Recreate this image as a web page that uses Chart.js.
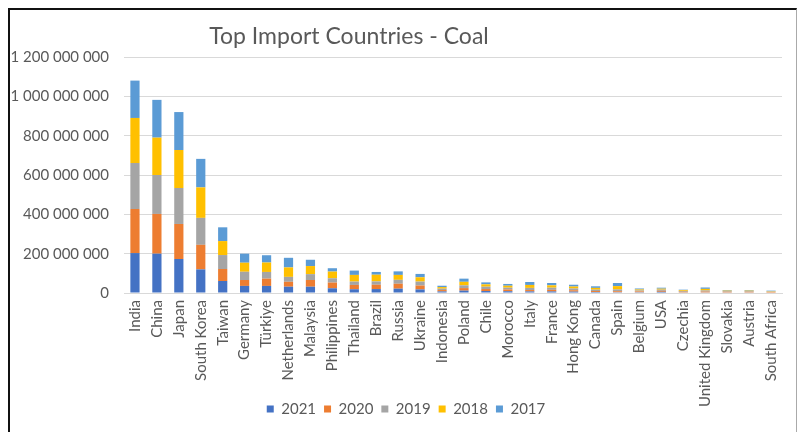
<!DOCTYPE html>
<html>
<head>
<meta charset="utf-8">
<script src="https://cdn.jsdelivr.net/npm/chart.js@4.4.0/dist/chart.umd.min.js"></script>
<style>
  html, body { margin: 0; padding: 0; background: #fff; }
  #wrap { position: relative; width: 798px; height: 432px; overflow: hidden; }
  #frame { position: absolute; left: 8px; top: 8px; width: 789px; height: 440px;
           border-left: 2px solid #111; border-top: 2px solid #111; border-right: 1px solid #aaa;
           pointer-events: none; box-sizing: border-box; }
</style>
</head>
<body>
<div id="wrap">
  <canvas id="c" width="798" height="432"></canvas>
  <div id="frame"></div>
</div>
<script>
const titleText = 'Top Import Countries - Coal';
const categories = ['India','China','Japan','South Korea','Taiwan','Germany','Türkiye','Netherlands','Malaysia','Philippines','Thailand','Brazil','Russia','Ukraine','Indonesia','Poland','Chile','Morocco','Italy','France','Hong Kong','Canada','Spain','Belgium','USA','Czechia','United Kingdom','Slovakia','Austria','South Africa'];
const seriesNames = ['2021','2020','2019','2018','2017'];
// values in millions of tonnes
const v2021 = [203,200,173,120,61,36,36,32,32,24,19,20,22,18,8,12,10,9,8,8,7,5,4,4,6,3,3,3,3,2.4];
const v2020 = [224,202,178,125,61,30,37,25,34,29,22,22,25,20,7,13,10,9,7,8,7,5,5,4,5,3,4,3,3,2.4];
const v2019 = [234,198,183,137,71,42,34,25,30,22,17,17,20,20,7,14,12,9,11,11,9,7,9,5,6,4,6,3,3,2.4];
const v2018 = [229,190,193,155,71,46,48,48,41,34,34,34,25,22,8,18,12,10,15,12,10,9,17,5,5,4,8,3,3,2.4];
const v2017 = [190,192,193,145,70,46,37,49,32,17,22,14,18,17,7,16,10,9,15,12,9,8,16,5,5,3,7,3,3,2.4];
const yTicks = [0,200000000,400000000,600000000,800000000,1000000000,1200000000];
const colors = ['#4472C4','#ED7D31','#A5A5A5','#FFC000','#5B9BD5'];

const seriesValues = [v2021, v2020, v2019, v2018, v2017];
const FONT = 'Lato, "Open Sans", sans-serif';
const fmt = n => String(n).replace(/\B(?=(\d{3})+(?!\d))/g, ' ');

const titlePlugin = {
  id: 'customTitle',
  afterDraw(chart) {
    const ctx = chart.ctx;
    ctx.save();
    ctx.font = '23px ' + FONT;
    ctx.fillStyle = '#595959';
    ctx.textAlign = 'center';
    ctx.textBaseline = 'alphabetic';
    ctx.fillText(titleText, 349, 43.5);
    ctx.restore();
  }
};

// place the legend over the bottom of the axis area, as in the original
const legendPlace = {
  id: 'legendPlace',
  afterLayout(chart) {
    const l = chart.legend;
    if (!l) return;
    const w = l.right - l.left;
    const h = 33;
    l.left = 406 - w / 2; l.right = 406 + w / 2;
    l.top = 393.5; l.bottom = l.top + h; l.height = h;
  }
};

new Chart(document.getElementById('c'), {
  type: 'bar',
  data: {
    labels: categories,
    datasets: seriesNames.map((name, i) => ({
      label: name,
      data: seriesValues[i].map(v => v * 1000000),
      backgroundColor: colors[i],
      borderWidth: 0,
      barPercentage: 0.42,
      categoryPercentage: 1.0
    }))
  },
  options: {
    responsive: false,
    animation: false,
    devicePixelRatio: 1,
    layout: { padding: { top: 57, right: 16, bottom: 0, left: 0 } },
    plugins: {
      legend: {
        position: 'bottom',
        maxHeight: 1,
        labels: { boxWidth: 7, boxHeight: 7, padding: 8, color: '#595959', font: { family: FONT, size: 15 } }
      },
      tooltip: { enabled: false }
    },
    scales: {
      x: {
        stacked: true,
        grid: { display: false, drawTicks: false },
        border: { display: true, color: '#d9d9d9' },
        ticks: { color: '#595959', font: { family: FONT, size: 15 }, minRotation: 90, maxRotation: 90, autoSkip: false, padding: 7 },
        afterFit(scale) { scale.height = 138; }
      },
      y: {
        stacked: true,
        min: 0, max: 1200000000,
        afterBuildTicks(scale) { scale.ticks = yTicks.map(v => ({ value: v })); },
        grid: { color: '#d9d9d9', drawTicks: false },
        border: { display: false },
        ticks: { color: '#595959', font: { family: FONT, size: 15 }, padding: 15, callback: v => fmt(v) },
        afterFit(scale) { scale.width = 124; }
      }
    }
  },
  plugins: [titlePlugin, legendPlace]
});
</script>
</body>
</html>
